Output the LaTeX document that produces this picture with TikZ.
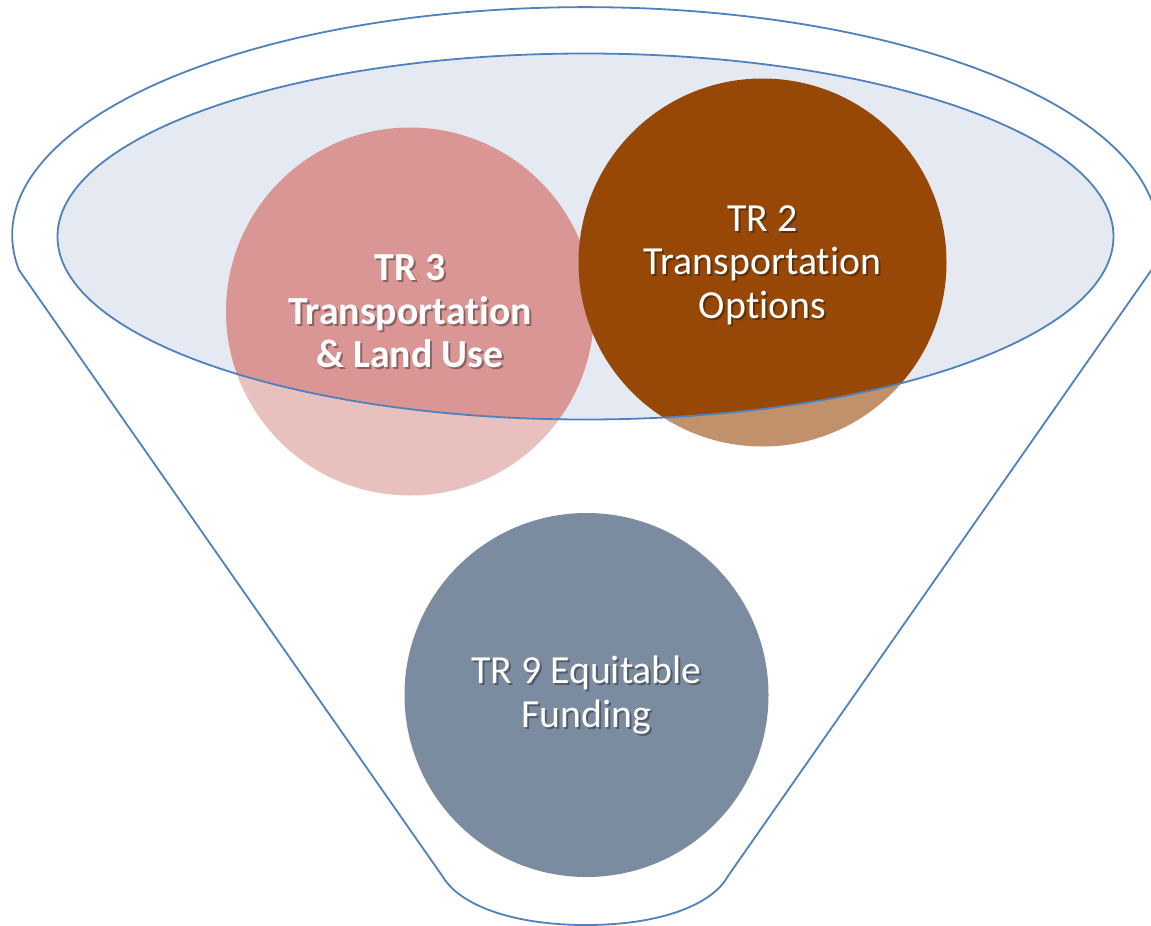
\documentclass[tikz,border=0pt]{standalone}
\usepackage{fontspec}
\setmainfont[Ligatures=NoCommon]{Carlito}
\usepackage{xcolor}
\tikzset{>=stealth}
\definecolor{funnelblue}{HTML}{4F81BD}
\definecolor{lensfill}{HTML}{E4E9F2}
\definecolor{landpink}{HTML}{D99694}
\definecolor{optbrown}{HTML}{974807}
\definecolor{fundgray}{HTML}{7B8BA0}

\begin{document}
\begin{tikzpicture}[x=1pt,y=-1pt,
    bubble/.style={circle, inner sep=0pt, minimum size=2*\rad},
    lbl/.style={text=white, align=center, inner sep=0pt, font=\fontsize{39.8}{43.5}\selectfont},
    lblshadow/.style={lbl, text=black, text opacity=0.35},
    funnelline/.style={draw=funnelblue, line width=1.8pt}]
        \def\rad{184pt}

        \useasboundingbox (0,0) rectangle (1151,926);

        % lens of the funnel
        \coordinate (lens) at (585.5,236.5);
        \fill[lensfill] (lens) ellipse (528 and 183);

        % bubbles in the lens
        \node[bubble, fill=landpink] (tr3) at (410,311.5) {};
        \node[bubble, fill=optbrown] (tr2) at (762.5,262.5) {};

        % paler outside the lens
        \fill[white, fill opacity=0.4, even odd rule] (0,0) rectangle (1151,926) (lens) ellipse (528 and 183);

        \draw[funnelline] (lens) ellipse (528 and 183);

        % funnel
        \draw[funnelline] (19,270) arc[start angle=171.2, end angle=368.8, x radius=573, y radius=228]
            -- (728,876) .. controls (712,905) and (660,925) .. (586,925)
            .. controls (512,925) and (460,905) .. (443,877) -- cycle;

        \def\rad{182pt}
        \node[bubble, fill=fundgray] (tr9) at (586.5,695) {};

        %labels
        \node[lblshadow, font=\fontsize{39.8}{43.5}\selectfont\bfseries] (tr3s) at ([shift={(2,2)}]tr3.center) {TR 3\\Transportation\\\& Land Use};
        \node[lbl, font=\fontsize{39.8}{43.5}\selectfont\bfseries] (tr3t) at (tr3) {TR 3\\Transportation\\\& Land Use};
        \node[lblshadow] (tr2s) at ([shift={(2,4.5)}]tr2.center) {TR 2\\Transportation\\Options};
        \node[lbl] (tr2t) at ([yshift=-2.5pt]tr2.center) {TR 2\\Transportation\\Options};
        \node[lblshadow] (tr9s) at ([shift={(2,2)}]tr9.center) {TR 9 Equitable\\Funding};
        \node[lbl] (tr9t) at (tr9) {TR 9 Equitable\\Funding};

    \end{tikzpicture}
\end{document}
